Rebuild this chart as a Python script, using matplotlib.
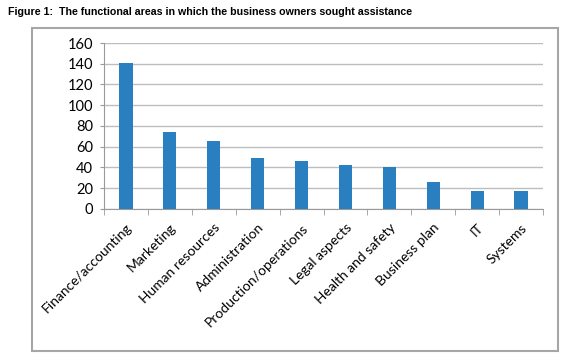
import numpy as np
import matplotlib.pyplot as plt
from matplotlib.patches import Rectangle

areas = ["Finance/accounting", "Marketing", "Human resources", "Administration",
         "Production/operations", "Legal aspects", "Health and safety",
         "Business plan", "IT", "Systems"]
counts = [141, 74, 66, 49, 46, 42, 40, 26, 17, 17]
y_ticks = [0, 20, 40, 60, 80, 100, 120, 140, 160]

plt.rcParams['font.family'] = ['Lato', 'DejaVu Sans']

fig = plt.figure(figsize=(5.7, 3.62), dpi=100)
ax = fig.add_axes([0.1825, 0.4227, 0.9526 - 0.1825, 0.8812 - 0.4227])

x = np.arange(len(areas))
ax.bar(x, counts, width=0.3, color="#2a7fc1", zorder=3)

ax.set_xlim(-0.5, len(areas) - 0.5)
ax.set_ylim(0, 160)
ax.set_yticks(y_ticks)
ax.yaxis.grid(True, color="#bdbdbd", linewidth=1)
ax.set_axisbelow(True)

ax.set_xticks(x)
ax.set_xticklabels(areas, rotation=45, ha="right", va="top",
                   rotation_mode="anchor", fontsize=10)
ax.set_xticks(np.arange(-0.5, len(areas)), minor=True)
ax.tick_params(axis="x", which="major", length=0, pad=9)
ax.tick_params(axis="x", which="minor", length=4, color="#9a9a9a")
ax.tick_params(axis="y", length=3, color="#9a9a9a", labelsize=10.5, pad=5)

for s in ["top", "right"]:
    ax.spines[s].set_visible(False)
for s in ["left", "bottom"]:
    ax.spines[s].set_color("#9a9a9a")

fig.patches.append(Rectangle((32 / 570, 1 - 351 / 362), (558 - 32) / 570,
                             (351 - 28) / 362, transform=fig.transFigure,
                             fill=False, edgecolor="#a6a6a6", linewidth=1.5))

fig.text(8 / 570, 1 - 12 / 362,
         "Figure 1:  The functional areas in which the business owners sought assistance",
         family=["Liberation Sans Narrow", "Liberation Sans", "DejaVu Sans"],
         fontweight="bold", fontsize=7.7, va="center", ha="left")

fig.savefig("out.png", dpi=100)
